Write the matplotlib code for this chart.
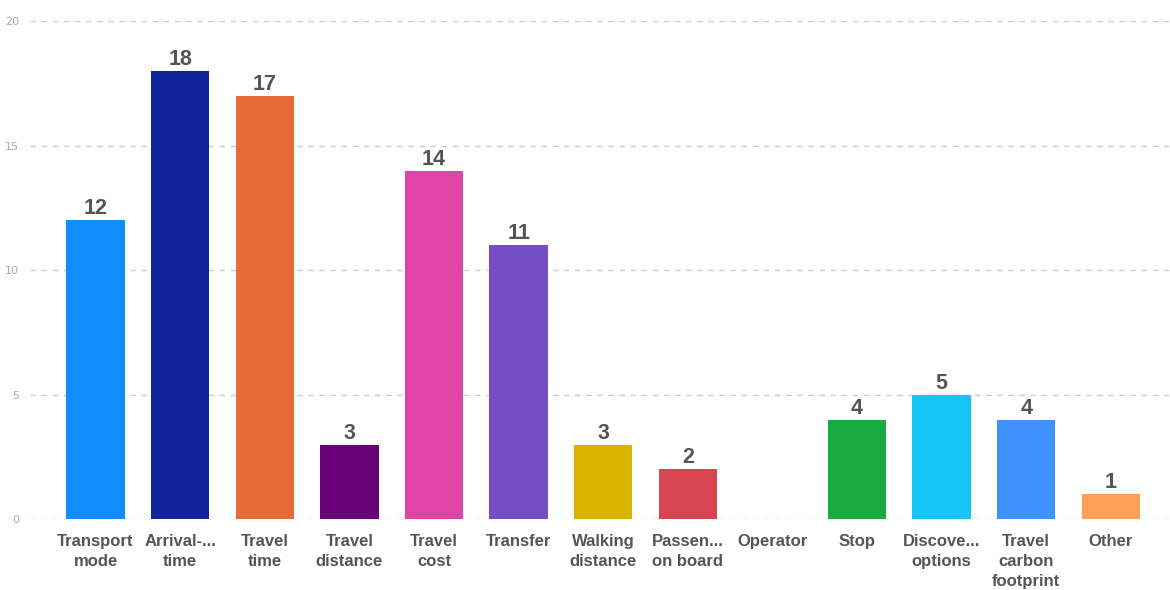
import matplotlib.pyplot as plt

categories = ["Transport\nmode", "Arrival-...\ntime", "Travel\ntime", "Travel\ndistance",
              "Travel\ncost", "Transfer", "Walking\ndistance", "Passen...\non board",
              "Operator", "Stop", "Discove...\noptions", "Travel\ncarbon\nfootprint", "Other"]
counts = [12, 18, 17, 3, 14, 11, 3, 2, 0, 4, 5, 4, 1]
colors = ["#118DFF", "#12239E", "#E66C37", "#6B007B", "#E044A7", "#744EC2", "#D9B300",
          "#D64550", "#197278", "#1AAB40", "#15C6F4", "#4092FF", "#FFA058"]

fig = plt.figure(figsize=(11.7, 5.9), dpi=100)
ax = fig.add_axes([0.026, 0.12, 0.974, 0.844])

x = range(len(categories))
bars = ax.bar(x, counts, width=0.69, color=colors, zorder=2)

for b, v in zip(bars, counts):
    if v == 0:
        continue
    ax.text(b.get_x() + b.get_width() / 2, v + 0.04, str(v), ha="center", va="bottom",
            fontsize=15.5, fontweight="bold", color="#555555", family="Liberation Sans")

ax.set_xlim(-0.77, 12.7)
ax.set_ylim(0, 20)
ax.set_yticks([0, 5, 10, 15, 20])
ax.set_xticks(list(x))
ax.set_xticklabels(categories, fontsize=12, fontweight="bold", color="#555555",
                   family="Liberation Sans", linespacing=1.38)
ax.tick_params(axis="x", length=0, pad=11)
ax.tick_params(axis="y", length=0, pad=8, labelsize=8, labelcolor="#a8a8a8")

ax.grid(axis="y", color="#cccccc", linestyle=(0, (4, 4)), linewidth=1, zorder=0)
for s in ax.spines.values():
    s.set_visible(False)

fig.savefig("out.png", dpi=100)
